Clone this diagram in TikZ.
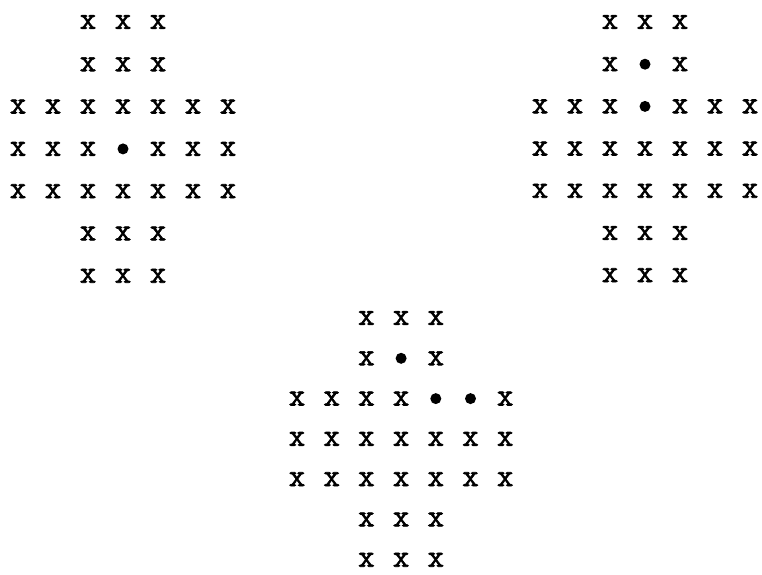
\documentclass[tikz,border=0pt]{standalone}
\usepackage{fontspec}
\newfontfamily\typewriter[FakeBold=2]{Latin Modern Mono}
\usetikzlibrary{positioning}
\tikzset{
  peg/.style={font=\typewriter\bfseries\fontsize{32}{32}\selectfont,inner sep=0pt,text=black},
  hole/.style={circle,fill=black,inner sep=0pt,minimum size=11pt}
}
\begin{document}
\begin{tikzpicture}[x=1pt,y=-1pt]
  \useasboundingbox (0,0) rectangle (762,574);
  % left board
  \foreach \r/\cols in {1/{3,4,5},2/{3,4,5},3/{1,...,7},4/{1,2,3,5,6,7},5/{1,...,7},6/{3,4,5},7/{3,4,5}}
    \foreach \c in \cols
      \node[peg] (left-\r-\c) at ({18+35*(\c-1)},{22+42.3*(\r-1)}) {x};
  \node[hole] (left-4-4) at ({18+35*3},{22+42.3*3}) {};
  % right board
  \foreach \r/\cols in {1/{3,4,5},2/{3,5},3/{1,2,3,5,6,7},4/{1,...,7},5/{1,...,7},6/{3,4,5},7/{3,4,5}}
    \foreach \c in \cols
      \node[peg] (right-\r-\c) at ({540+35*(\c-1)},{22+42.2*(\r-1)}) {x};
  \node[hole] (right-2-4) at ({540+35*3},{22+42.2*1}) {};
  \node[hole] (right-3-4) at ({540+35*3},{22+42.2*2}) {};
  % bottom board
  \foreach \r/\cols in {1/{3,4,5},2/{3,5},3/{1,2,3,4,7},4/{1,...,7},5/{1,...,7},6/{3,4,5},7/{3,4,5}}
    \foreach \c in \cols
      \node[peg] (bottom-\r-\c) at ({297+34.7*(\c-1)},{318+40.3*(\r-1)}) {x};
  \node[hole] (bottom-2-4) at ({297+34.7*3},{318+40.3*1}) {};
  \node[hole] (bottom-3-5) at ({297+34.7*4},{318+40.3*2}) {};
  \node[hole] (bottom-3-6) at ({297+34.7*5},{318+40.3*2}) {};
\end{tikzpicture}
\end{document}
